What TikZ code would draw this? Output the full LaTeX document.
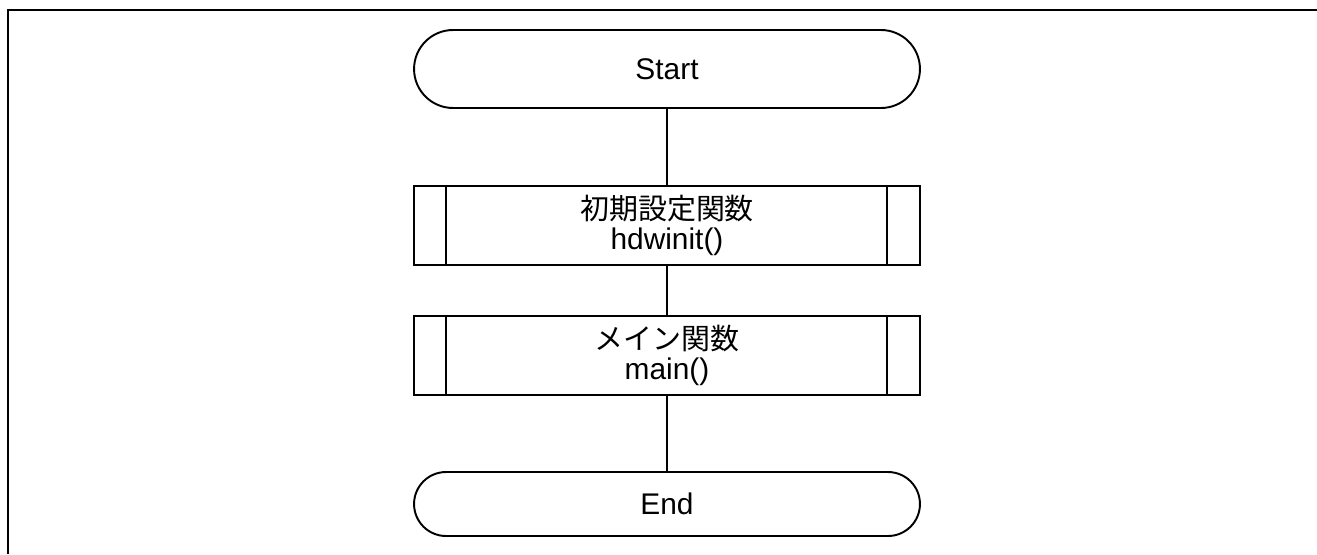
\documentclass[tikz,border=0pt]{standalone}
\usepackage{fontspec}
\setmainfont{Liberation Sans}
\newfontfamily\jpfont{Noto Sans CJK JP}
\usetikzlibrary{shapes.misc}
\tikzset{
  term/.style={draw, rounded rectangle, line width=1.1pt, minimum width=10.12cm, inner sep=0pt},
  subbox/.style={draw, rectangle, line width=1.1pt, minimum width=10.12cm, minimum height=1.58cm, align=center, inner sep=0pt,
    path picture={
      \draw[line width=1.1pt] ([xshift=0.64cm]path picture bounding box.north west) -- ([xshift=0.64cm]path picture bounding box.south west);
      \draw[line width=1.1pt] ([xshift=-0.66cm]path picture bounding box.north east) -- ([xshift=-0.66cm]path picture bounding box.south east);
    }},
  link/.style={line width=1.1pt}
}
\begin{document}
\begin{tikzpicture}[x=0.02cm, y=-0.02cm, font=\fontsize{17pt}{17pt}\selectfont]
        \useasboundingbox (0,0) rectangle (1317,554);
        \draw[line width=1.3pt] (1317,10) -- (8,10) -- (8,554);

        \node[term, minimum height=1.56cm] (start) at (667,69) {Start};
        \node[subbox] (hdw) at (667,225.5) {{\jpfont\fontsize{16.5pt}{17pt}\selectfont 初期設定関数}\\hdwinit()};
        \node[subbox] (mainfn) at (667,355.5) {{\jpfont\fontsize{16.5pt}{17pt}\selectfont メイン関数}\\main()};
        \node[term, minimum height=1.28cm] (end) at (667,504) {End};

        \draw[link] (start) -- (hdw);
        \draw[link] (hdw) -- (mainfn);
        \draw[link] (mainfn) -- (end);
    \end{tikzpicture}
\end{document}
